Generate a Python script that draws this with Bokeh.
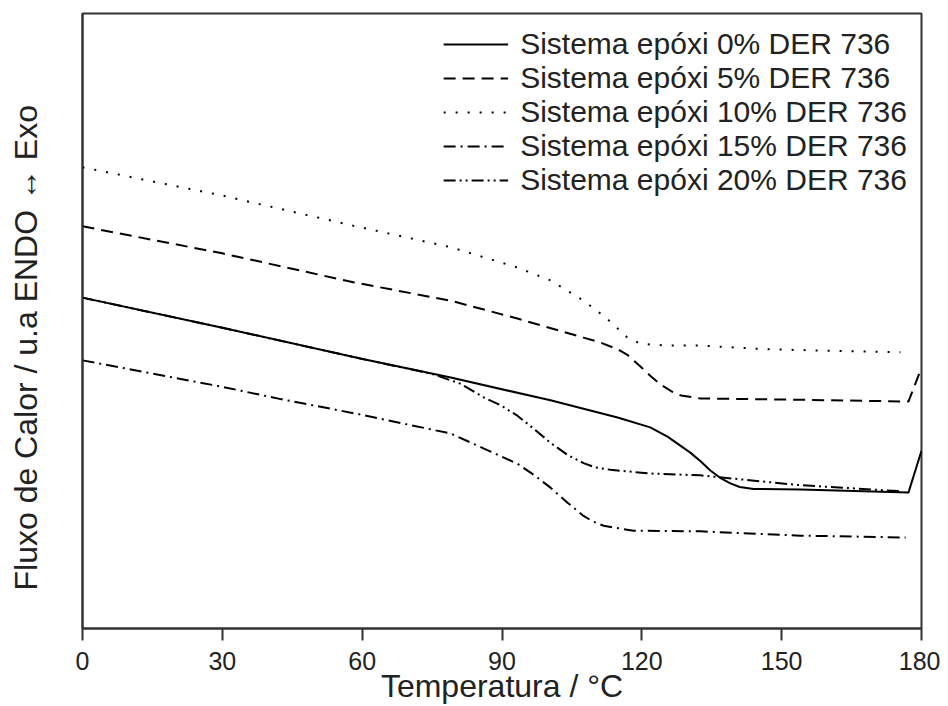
from bokeh.plotting import figure
from bokeh.models import Range1d, FixedTicker, Legend, LegendItem, Title
from bokeh.embed import file_html
from bokeh.resources import INLINE

# Temperature (°C) and heat flow (a.u.)
t_0 = [0, 30, 59.6, 79, 100.4, 114.8, 121.8, 125.5, 130.4, 132.6, 134.7, 137, 139, 141, 144, 154, 177.2, 180]
f_0 = [53.8, 48.9, 43.9, 40.8, 37.1, 34.3, 32.7, 31.2, 28.6, 27.2, 25.7, 24.4, 23.6, 23.0, 22.7, 22.6, 22.1, 28.9]

t_5 = [0, 30, 58.1, 79, 93.3, 107.5, 111.1, 114.8, 116.9, 119.7, 121.8, 124, 126.5, 128.4, 132.6, 154, 177.2, 180]
f_5 = [65.4, 61.0, 56.3, 53.3, 50.4, 47.3, 46.5, 45.4, 44.5, 42.6, 41.1, 39.7, 38.5, 37.9, 37.4, 37.2, 36.9, 42.4]

t_10 = [0, 30, 58.1, 79, 93.3, 100.4, 107.5, 112.2, 114.8, 116.9, 119.7, 125.5, 132.6, 147, 175.5]
f_10 = [75.0, 70.4, 65.5, 62.0, 58.7, 56.6, 53.3, 50.6, 48.8, 47.3, 46.3, 46.0, 46.0, 45.4, 44.9]

t_15 = [0, 30, 42.5, 59.6, 79, 86, 93.3, 96.8, 100.4, 104, 107.5, 109.5, 111.8, 118.2, 132.6, 154, 176.6]
f_15 = [43.6, 39.3, 37.3, 34.8, 31.7, 29.3, 26.8, 25.0, 22.9, 20.5, 18.3, 17.4, 16.7, 15.9, 15.8, 15.1, 14.8]

t_20 = [0, 30, 59.6, 75, 81.1, 86, 89.7, 93.3, 96.8, 100.4, 104.1, 107.5, 110, 113.3, 121.8, 132.6, 154, 176]
f_20 = [53.8, 48.9, 43.9, 41.4, 39.8, 37.6, 36.3, 34.6, 32.5, 30.2, 28.2, 26.9, 26.2, 25.8, 25.2, 24.9, 23.3, 22.3]

labels = ["Sistema epóxi 0% DER 736", "Sistema epóxi 5% DER 736",
          "Sistema epóxi 10% DER 736", "Sistema epóxi 15% DER 736",
          "Sistema epóxi 20% DER 736"]
x_ticks = [0, 30, 60, 90, 120, 150, 180]
y_title = "Fluxo de Calor / u.a ENDO ↔ Exo"

FONT = "Liberation Sans"

p = figure(width=940, height=706, output_backend="svg", toolbar_location=None,
           x_range=Range1d(0, 180), y_range=Range1d(0, 100),
           min_border_left=82, min_border_top=13, min_border_right=19, min_border_bottom=78)
p.background_fill_color = "white"
p.border_fill_color = "white"
p.grid.grid_line_color = None
p.outline_line_color = "#333333"
p.outline_line_width = 2

series = [(t_0, f_0, "solid"), (t_5, f_5, "12 7"), (t_10, f_10, "2 10"),
          (t_15, f_15, "12 5 2 5"), (t_20, f_20, "12 4 2 4 2 4")]
items = []
for (t, f, dash), lab in zip(series, labels):
    r = p.line(t, f, line_color="black", line_width=2, line_dash=dash)
    items.append(LegendItem(label=lab, renderers=[r]))

legend = Legend(items=items, location="top_right")
legend.border_line_color = None
legend.background_fill_alpha = 0
legend.label_text_font = FONT
legend.label_text_font_size = "30px"
legend.label_text_line_height = 1.0
legend.label_text_color = "#222222"
legend.glyph_width = 65
legend.glyph_height = 28
legend.label_height = 28
legend.label_standoff = 12
legend.spacing = 0
legend.padding = 0
legend.margin = 14
p.add_layout(legend)

p.xaxis.ticker = FixedTicker(ticks=x_ticks)
p.xaxis.minor_tick_line_color = None
p.xaxis.major_tick_out = 12
p.xaxis.major_tick_in = 0
p.xaxis.major_tick_line_width = 2
p.xaxis.major_tick_line_color = "#333333"
p.xaxis.axis_line_width = 2
p.xaxis.axis_line_color = "#333333"
p.xaxis.major_label_text_font = FONT
p.xaxis.major_label_text_font_size = "25px"
p.xaxis.major_label_text_color = "#222222"
p.xaxis.major_label_standoff = 11
p.xaxis.axis_label = "Temperatura / °C"
p.xaxis.axis_label_text_font = FONT
p.xaxis.axis_label_text_font_size = "32px"
p.xaxis.axis_label_text_font_style = "normal"
p.xaxis.axis_label_text_color = "#222222"
p.xaxis.axis_label_standoff = -5

p.yaxis.major_tick_line_color = None
p.yaxis.minor_tick_line_color = None
p.yaxis.major_tick_out = 33
p.yaxis.major_tick_in = 0
p.yaxis.major_label_text_font_size = "0px"
p.yaxis.major_label_text_color = None
p.yaxis.axis_line_width = 2
p.yaxis.axis_line_color = "#333333"

ytitle = Title(text=y_title, align="left", offset=38, vertical_align="middle",
               text_font=FONT, text_font_size="32px", text_font_style="normal",
               text_color="#222222", standoff=10)
p.add_layout(ytitle, "left")

open("out.html", "w").write(file_html(p, INLINE))
